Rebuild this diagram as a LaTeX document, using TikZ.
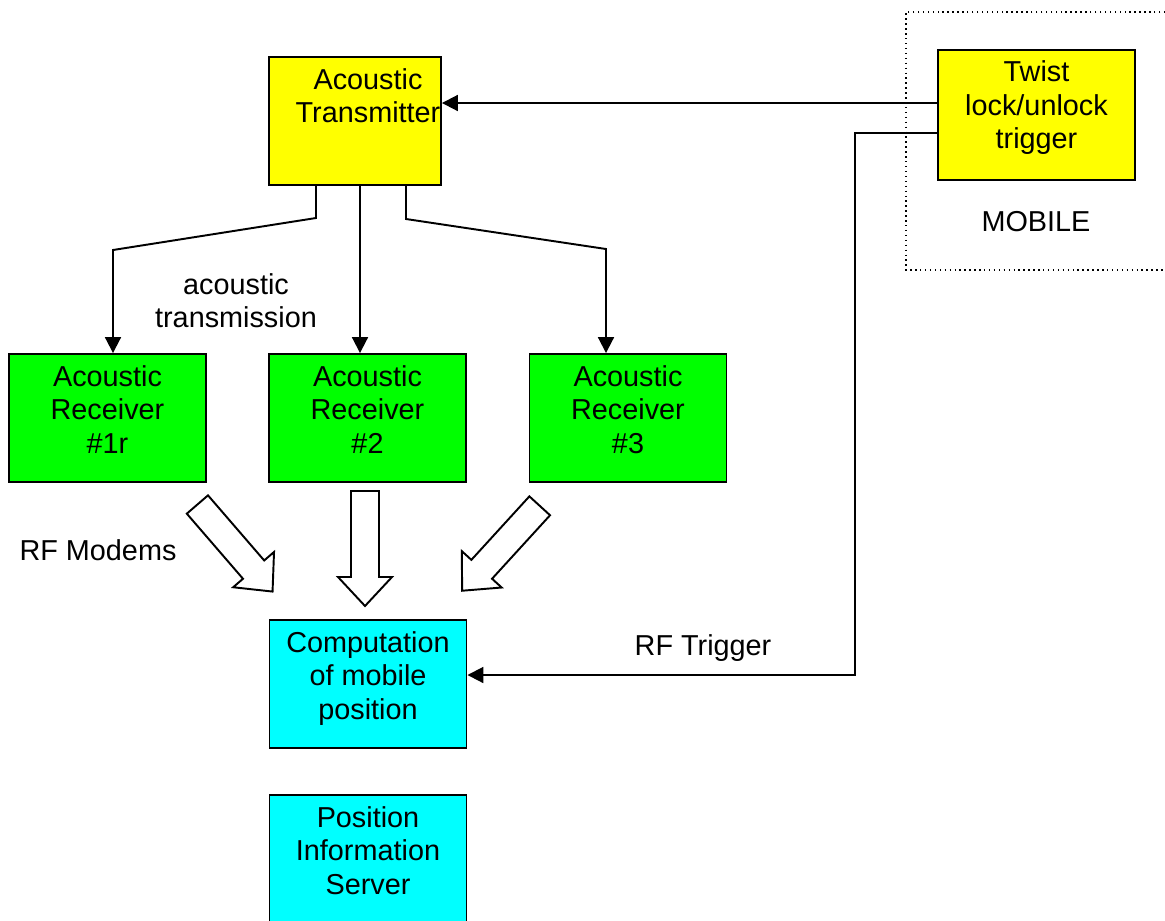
\documentclass[tikz,border=0pt]{standalone}
\usepackage{fontspec}
\setmainfont{Liberation Sans}
\usepackage{tikz}
\usetikzlibrary{positioning,arrows.meta}

\definecolor{boxyellow}{RGB}{255,255,0}
\definecolor{boxgreen}{RGB}{0,255,0}
\definecolor{boxcyan}{RGB}{0,255,255}

\tikzset{
  box/.style={draw, rectangle, line width=1.1pt, minimum width=3.94cm, minimum height=2.56cm},
  txt/.style={align=center, inner sep=0pt, font=\fontsize{16.4}{19}\selectfont},
  conn/.style={line width=1.1pt, -{Triangle[length=9pt,width=9pt]}},
  modem/.pic={\draw[line width=1.1pt, fill=white] (0,-14) -- (86,-14) -- (86,-27) -- (115,0) -- (86,27) -- (86,14) -- (0,14) -- cycle;}
}

\begin{document}
\begin{tikzpicture}[x=0.02cm, y=-0.02cm]
    \useasboundingbox (0,0) rectangle (1165,920);
    % mobile unit
    \draw[dotted, line width=0.8pt] (1180,12) -- (906,12) -- (906,270) -- (1180,270);
    \node[box, fill=boxyellow, minimum height=2.6cm] (twist) at (1036.5,115) {};
    \node[txt, below=6.5pt of twist.north] (twisttxt) {Twist\\lock/unlock\\trigger};
    \node[txt] (mobile) at (1036,222) {MOBILE};

    % transmitter and receivers
    \node[box, fill=boxyellow, minimum width=3.44cm] (trans) at (355,121) {};
    \node[txt, below=7pt of trans.north, xshift=0.26cm] (transtxt) {Acoustic\\Transmitter};
    \node[box, fill=boxgreen] (rec1) at (107.5,418) {};
    \node[box, fill=boxgreen] (rec2) at (367.5,418) {};
    \node[box, fill=boxgreen] (rec3) at (628,418) {};
    \node[txt, below=7pt of rec1.north] (rec1txt) {Acoustic\\Receiver\\\#1r};
    \node[txt, below=7pt of rec2.north] (rec2txt) {Acoustic\\Receiver\\\#2};
    \node[txt, below=7pt of rec3.north] (rec3txt) {Acoustic\\Receiver\\\#3};

    \draw[conn] (trans.south -| 316,0) -- (316,218) -- (113,250) -- (rec1.north -| 113,0);
    \draw[conn] (trans.south -| 360,0) -- (rec2.north -| 360,0);
    \draw[conn] (trans.south -| 406,0) -- (406,219) -- (606,249) -- (rec3.north -| 606,0);
    \node[txt] (acoustic) at (236,301) {acoustic\\transmission};

    % server side
    \node[box, fill=boxcyan] (comp) at (368,684) {};
    \node[txt, below=7pt of comp.north] (comptxt) {Computation\\of mobile\\position};
    \node[box, fill=boxcyan, minimum height=2.6cm] (server) at (368,860) {};
    \node[txt, below=7pt of server.north] (servertxt) {Position\\Information\\Server};

    % RF modem links
    \pic[rotate=-49.2] at (197.4,504.5) {modem};
    \pic[rotate=-90] at (365,491) {modem};
    \pic[rotate=-132.4] at (539.7,505.8) {modem};
    \node[txt] (modems) at (98,550) {RF Modems};

    % trigger paths
    \draw[conn] (twist.west |- 0,103) -- (trans.east |- 0,103);
    \draw[conn] (twist.west |- 0,133) -- (855,133) -- (855,675) -- (comp.east |- 0,675);
    \node[txt] (rftrig) at (703,648) {RF Trigger};
  \end{tikzpicture}
\end{document}
